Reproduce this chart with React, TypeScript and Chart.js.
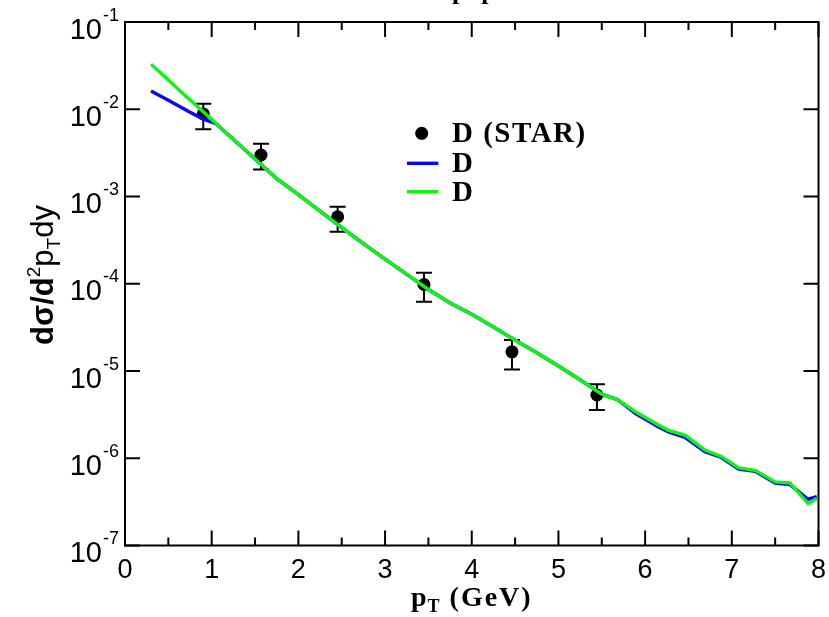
import React, { useEffect, useRef } from "react";
import { Chart, registerables } from "chart.js";

Chart.register(...registerables);

// ---------- data ----------
const xTickValues = [0, 0.5, 1, 1.5, 2, 2.5, 3, 3.5, 4, 4.5, 5, 5.5, 6, 6.5, 7, 7.5, 8];
const xTickLabels = ["0", "", "1", "", "2", "", "3", "", "4", "", "5", "", "6", "", "7", "", "8"];
const yTickValues = [1e-1, 1e-2, 1e-3, 1e-4, 1e-5, 1e-6, 1e-7];
const yTickExponents = ["-1", "-2", "-3", "-4", "-5", "-6", "-7"];

const starPt = [0.903, 1.569, 2.453, 3.449, 4.464, 5.444];
const starVal = [8.83e-3, 2.99e-3, 5.86e-4, 9.8e-5, 1.66e-5, 5.31e-6];
const starErrHigh = [1.16e-2, 4.03e-3, 7.64e-4, 1.34e-4, 2.26e-5, 7.05e-6];
const starErrLow = [5.89e-3, 2.04e-3, 3.95e-4, 6.22e-5, 1.04e-5, 3.57e-6];

const blueX = [0.3, 0.5, 0.75, 0.9, 1.05, 1.3, 1.5, 1.75, 2.0, 2.25, 2.5, 2.75, 3.0, 3.25, 3.5, 3.75, 4.0, 4.25, 4.5, 4.75, 5.0, 5.24, 5.5, 5.68, 5.89, 6.16, 6.27, 6.46, 6.69, 6.88, 7.08, 7.27, 7.5, 7.67, 7.88, 7.98];
const blueY = [1.62e-2, 1.27e-2, 9.23e-3, 7.76e-3, 6.84e-3, 4.08e-3, 2.69e-3, 1.6e-3, 1.05e-3, 6.81e-4, 4.41e-4, 2.88e-4, 1.92e-4, 1.28e-4, 8.59e-5, 6.03e-5, 4.47e-5, 3.2e-5, 2.26e-5, 1.62e-5, 1.14e-5, 8.04e-6, 5.42e-6, 4.71e-6, 3.24e-6, 2.26e-6, 2.0e-6, 1.74e-6, 1.19e-6, 1.02e-6, 7.5e-7, 7.08e-7, 5.19e-7, 5.01e-7, 3.39e-7, 3.63e-7];

const greenX = [0.3, 0.5, 0.7, 0.9, 1.1, 1.3, 1.5, 1.75, 2.0, 2.25, 2.5, 2.75, 3.0, 3.25, 3.5, 3.75, 4.0, 4.25, 4.5, 4.75, 5.0, 5.24, 5.5, 5.68, 5.89, 6.16, 6.27, 6.46, 6.69, 6.88, 7.08, 7.27, 7.5, 7.67, 7.88, 7.98];
const greenY = [3.27e-2, 2.16e-2, 1.42e-2, 9.4e-3, 6.19e-3, 4.08e-3, 2.69e-3, 1.6e-3, 1.05e-3, 6.81e-4, 4.41e-4, 2.88e-4, 1.92e-4, 1.28e-4, 8.59e-5, 6.03e-5, 4.47e-5, 3.2e-5, 2.26e-5, 1.62e-5, 1.14e-5, 8.04e-6, 5.42e-6, 4.71e-6, 3.4e-6, 2.39e-6, 2.09e-6, 1.84e-6, 1.24e-6, 1.05e-6, 7.74e-7, 7.28e-7, 5.35e-7, 5.21e-7, 3.02e-7, 3.45e-7];

const legendLabels = ["D (STAR)", "D", "D"];
const titleText = "p+p";
const xTitleMain = "p";
const xTitleSub = "T";
const xTitleRest = " (GeV)";

const BLUE = "#0505f8";
const GREEN = "#10f510";

const SERIF_B = (s: number) => `bold ${s}px "Liberation Serif", "Times New Roman", serif`;
const SANS = (s: number, b = false) => `${b ? "bold " : ""}${s}px "Liberation Sans", Arial, sans-serif`;

const decor = {
  id: "decor",
  beforeDatasetsDraw(chart: any) {
    const { ctx, scales } = chart;
    const x = scales.x, y = scales.y;
    ctx.save();
    ctx.strokeStyle = "#000";
    ctx.lineWidth = 2;
    starPt.forEach((p, i) => {
      const cx = x.getPixelForValue(p);
      const yh = y.getPixelForValue(starErrHigh[i]);
      const yl = y.getPixelForValue(starErrLow[i]);
      ctx.beginPath();
      ctx.moveTo(cx, yh); ctx.lineTo(cx, yl);
      ctx.moveTo(cx - 8, yh); ctx.lineTo(cx + 8, yh);
      ctx.moveTo(cx - 8, yl); ctx.lineTo(cx + 8, yl);
      ctx.stroke();
    });
    ctx.restore();
  },
  afterDraw(chart: any) {
    const { ctx, chartArea, scales } = chart;
    const x = scales.x, y = scales.y;
    const { left, right, top, bottom } = chartArea;
    ctx.save();
    ctx.strokeStyle = "#000";
    ctx.fillStyle = "#000";
    ctx.lineWidth = 2;
    ctx.strokeRect(left, top, right - left, bottom - top);

    // ticks (inward)
    ctx.beginPath();
    x.ticks.forEach((t: any, i: number) => {
      const px = x.getPixelForValue(t.value);
      const len = xTickLabels[i] ? 15 : 8;
      ctx.moveTo(px, bottom); ctx.lineTo(px, bottom - len);
      ctx.moveTo(px, top); ctx.lineTo(px, top + len);
    });
    y.ticks.forEach((t: any) => {
      const py = y.getPixelForValue(t.value);
      ctx.moveTo(left, py); ctx.lineTo(left + 15, py);
      ctx.moveTo(right, py); ctx.lineTo(right - 15, py);
    });
    ctx.stroke();

    // x tick labels
    ctx.font = SANS(27);
    ctx.textAlign = "center";
    ctx.textBaseline = "alphabetic";
    x.ticks.forEach((t: any, i: number) => {
      if (!xTickLabels[i]) return;
      ctx.fillText(xTickLabels[i], x.getPixelForValue(t.value), bottom + 32);
    });

    // y tick labels 10^n
    ctx.textAlign = "left";
    y.ticks.forEach((t: any, i: number) => {
      const py = y.getPixelForValue(t.value);
      ctx.font = SANS(18);
      const ew = ctx.measureText(yTickExponents[i]).width;
      ctx.font = SANS(29);
      const bw = ctx.measureText("10").width;
      const x0 = left - 7 - ew - bw;
      ctx.fillText("10", x0, py + 16.5);
      ctx.font = SANS(18);
      ctx.fillText(yTickExponents[i], x0 + bw + 1, py - 1.5);
    });

    // x title
    ctx.font = SERIF_B(28);
    ctx.fillText(xTitleMain, 411, 606);
    const pw = ctx.measureText(xTitleMain).width;
    ctx.font = SERIF_B(18);
    ctx.fillText(xTitleSub, 411 + pw + 1, 612);
    const tw = ctx.measureText(xTitleSub).width;
    ctx.font = SERIF_B(28);
    (ctx as any).letterSpacing = "2px";
    ctx.fillText(xTitleRest, 411 + pw + tw + 2, 606);
    (ctx as any).letterSpacing = "0px";

    // clipped title at top
    ctx.font = SERIF_B(26);
    ctx.fillText(titleText, 452, -1.5);

    // y title (rotated)
    ctx.save();
    ctx.translate(53, 275);
    ctx.rotate(-Math.PI / 2);
    const segs: [string, string, number][] = [
      ["dσ/d", SANS(31, true), 0],
      ["2", SANS(19), -13],
      ["p", SANS(31), 0],
      ["T", SANS(19), 7],
      ["dy", SANS(31), 0],
    ];
    let total = 0;
    segs.forEach(([s, f]) => { ctx.font = f; total += ctx.measureText(s).width; });
    let cx = -total / 2;
    segs.forEach(([s, f, dy]) => {
      ctx.font = f;
      ctx.fillText(s, cx, dy);
      cx += ctx.measureText(s).width;
    });
    ctx.restore();

    // legend
    ctx.beginPath();
    ctx.arc(421.7, 133.3, 6.5, 0, Math.PI * 2);
    ctx.fill();
    ctx.lineWidth = 3.4;
    ctx.strokeStyle = BLUE;
    ctx.beginPath(); ctx.moveTo(407, 163.3); ctx.lineTo(438.3, 163.3); ctx.stroke();
    ctx.strokeStyle = GREEN;
    ctx.beginPath(); ctx.moveTo(407, 191.7); ctx.lineTo(438.3, 191.7); ctx.stroke();
    ctx.font = SERIF_B(29);
    (ctx as any).letterSpacing = "1.5px";
    ctx.fillText(legendLabels[0], 452, 142);
    ctx.fillText(legendLabels[1], 452, 172);
    ctx.fillText(legendLabels[2], 452, 200.5);
    (ctx as any).letterSpacing = "0px";
    ctx.restore();
  },
};

export default function App() {
  const ref = useRef<HTMLCanvasElement | null>(null);
  useEffect(() => {
    if (!ref.current) return;
    const chart = new Chart(ref.current, {
      type: "scatter",
      data: {
        datasets: [
          {
            label: legendLabels[0],
            data: starPt.map((p, i) => ({ x: p, y: starVal[i] })),
            showLine: false,
            pointRadius: 6.5,
            pointBackgroundColor: "#000",
            pointBorderWidth: 0,
            order: 3,
          },
          {
            label: legendLabels[1],
            data: blueX.map((p, i) => ({ x: p, y: blueY[i] })),
            showLine: true,
            borderColor: BLUE,
            borderWidth: 3.4,
            pointRadius: 0,
            tension: 0,
            order: 2,
          },
          {
            label: legendLabels[2],
            data: greenX.map((p, i) => ({ x: p, y: greenY[i] })),
            showLine: true,
            borderColor: GREEN,
            borderWidth: 3.4,
            pointRadius: 0,
            tension: 0,
            order: 1,
          },
        ],
      },
      options: {
        responsive: false,
        animation: false,
        events: [],
        layout: { padding: { left: 0, top: 22, right: 10.5, bottom: 0 } },
        plugins: { legend: { display: false }, tooltip: { enabled: false }, title: { display: false } },
        scales: {
          x: {
            type: "linear",
            min: 0,
            max: 8,
            grid: { display: false },
            border: { display: false },
            ticks: { display: false, stepSize: 0.5 },
            afterBuildTicks: (s: any) => { s.ticks = xTickValues.map((v) => ({ value: v })); },
            afterFit: (s: any) => { s.height = 71.5; },
          },
          y: {
            type: "logarithmic",
            min: 1e-7,
            max: 1e-1,
            grid: { display: false },
            border: { display: false },
            ticks: { display: false },
            afterBuildTicks: (s: any) => { s.ticks = yTickValues.map((v) => ({ value: v })); },
            afterFit: (s: any) => { s.width = 125; },
          },
        },
      },
      plugins: [decor],
    });
    return () => chart.destroy();
  }, []);
  return (
    <div style={{ position: "absolute", left: 0, top: 0, width: 829, height: 617, background: "#fff" }}>
      <canvas ref={ref} width={829} height={617} style={{ display: "block" }} />
    </div>
  );
}
